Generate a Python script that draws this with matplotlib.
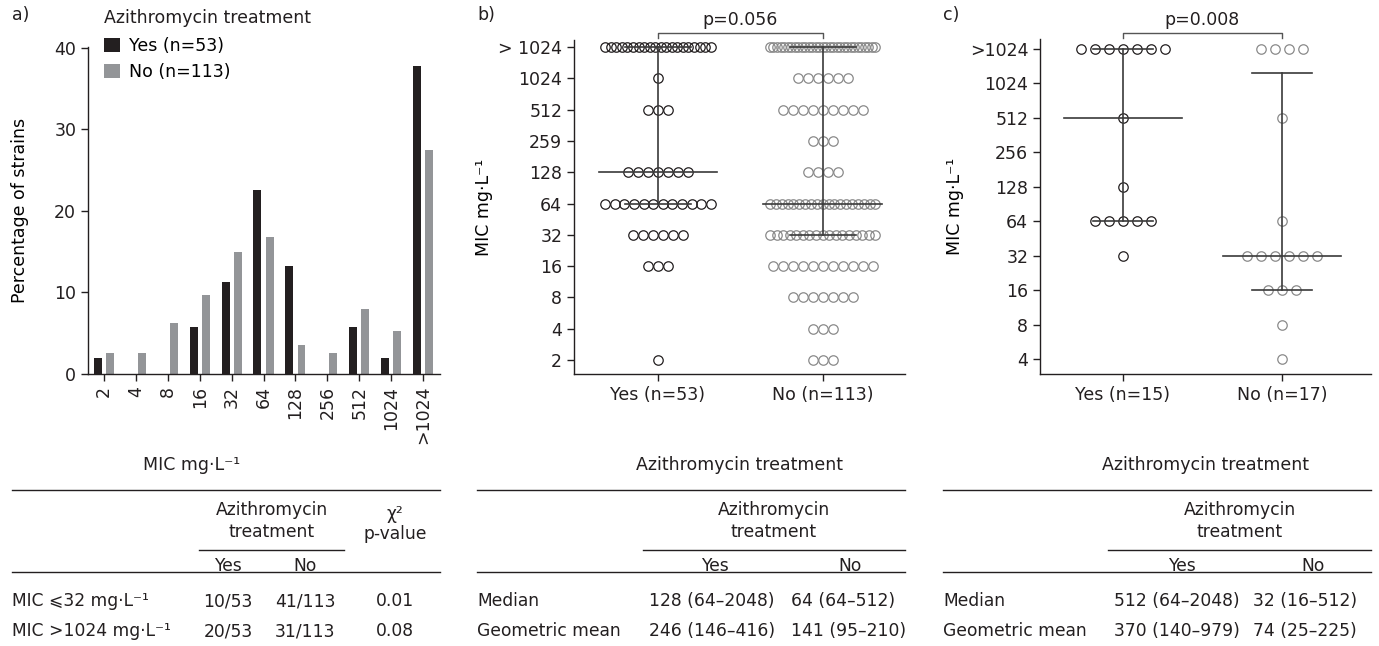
import numpy as np
import matplotlib
matplotlib.use("Agg")
import matplotlib.pyplot as plt
from matplotlib.lines import Line2D

plt.rcParams['font.family'] = ['DejaVu Sans']
plt.rcParams['font.size'] = 12.5

INK = '#231f20'
GREY = '#939598'
DOT_GREY = '#8a8a8a'

# ---- panel a: distribution of MIC (percentage of strains)
mic_labels = ['2', '4', '8', '16', '32', '64', '128', '256', '512', '1024', '>1024']
yes_pct = [1.9, 0, 0, 5.7, 11.3, 22.6, 13.2, 0, 5.7, 1.9, 37.7]
no_pct = [2.6, 2.6, 6.2, 9.7, 15.0, 16.8, 3.5, 2.6, 8.0, 5.3, 27.4]

# ---- panel b: all strains, number of strains at each MIC (log2 level 1..11, 11 = >1024)
b_levels = [1, 2, 3, 4, 5, 6, 7, 8, 9, 10, 11]
b_ticklabels = ['2', '4', '8', '16', '32', '64', '128', '259', '512', '1024', '> 1024']
b_yes_counts = [1, 0, 0, 3, 6, 12, 7, 0, 3, 1, 20]
b_no_counts = [3, 3, 7, 11, 17, 19, 4, 3, 9, 6, 31]
b_yes_stats = (7, 6, 11)    # median, low, high (log2 level)
b_no_stats = (6, 5, 11)

# ---- panel c: paired strains
c_levels = [2, 3, 4, 5, 6, 7, 8, 9, 10, 11]
c_ticklabels = ['4', '8', '16', '32', '64', '128', '256', '512', '1024', '>1024']
c_yes_counts = [0, 0, 0, 1, 5, 1, 0, 1, 0, 7]
c_no_counts = [1, 1, 3, 6, 1, 0, 0, 1, 0, 4]
c_yes_stats = (9, 6, 11)
c_no_stats = (5, 4, 10.3)

W, H = 1379, 646


def fx(x):
    return x / W


def fy(y):
    return 1 - y / H


def row_x(n, step, max_span):
    if n <= 1:
        return np.zeros(n)
    span = min(step * (n - 1), max_span)
    return np.linspace(-span / 2, span / 2, n)


def style_axes(ax):
    for s in ['top', 'right']:
        ax.spines[s].set_visible(False)
    for s in ['left', 'bottom']:
        ax.spines[s].set_color(INK)
        ax.spines[s].set_linewidth(1.0)
    ax.tick_params(colors=INK, width=1.0, length=5, direction='out')


def dot_panel(ax, levels, counts_yes, counts_no, stats_yes, stats_no, step, max_span, medw, capw):
    for xc, counts, col in [(0, counts_yes, INK), (1, counts_no, DOT_GREY)]:
        for lv, n in zip(levels, counts):
            xs = xc + row_x(n, step, max_span)
            ax.plot(xs, [lv] * n, 'o', ms=6.8, mfc='none', mec=col, mew=0.9, zorder=2)
    for xc, (med, lo, hi) in [(0, stats_yes), (1, stats_no)]:
        ax.plot([xc, xc], [lo, hi], color='#3a3a3a', lw=1.2, zorder=3)
        ax.plot([xc - medw, xc + medw], [med, med], color='#3a3a3a', lw=1.2, zorder=3)
        for v in (lo, hi):
            ax.plot([xc - capw, xc + capw], [v, v], color='#3a3a3a', lw=1.2, zorder=3)


fig = plt.figure(figsize=(W / 100, H / 100), dpi=100)

# ---------------- panel a
axa = fig.add_axes([fx(88), fy(374), fx(440) - fx(88), fy(46.7) - fy(374)])
x = np.arange(len(mic_labels))
axa.bar(x - 0.19, yes_pct, 0.25, color=INK, label='Yes (n=53)')
axa.bar(x + 0.19, no_pct, 0.25, color=GREY, label='No (n=113)')
axa.set_xlim(-0.5, 10.53)
axa.set_ylim(0, 40.1)
axa.set_yticks([0, 10, 20, 30, 40])
axa.set_xticks(x)
axa.set_xticklabels(mic_labels, rotation=90)
style_axes(axa)
axa.set_ylabel('Percentage of strains', labelpad=18)
axa.legend(loc='upper left', bbox_to_anchor=(fx(104), fy(37)), bbox_transform=fig.transFigure,
           frameon=False, handlelength=0.9, handleheight=0.9, handletextpad=0.55,
           labelspacing=0.47, borderaxespad=0, borderpad=0, fontsize=12.5)
fig.text(fx(104), fy(18), 'Azithromycin treatment', ha='left', va='center', color=INK)
fig.text(fx(192), fy(465), 'MIC mg·L⁻¹', ha='center', va='center', color=INK)

# ---------------- panel b
axb = fig.add_axes([fx(574), fy(374), fx(905) - fx(574), fy(40) - fy(374)])
dot_panel(axb, b_levels, b_yes_counts, b_no_counts, b_yes_stats, b_no_stats,
          10 / 165, 0.64, 0.36, 0.2)
axb.set_xlim(-0.51, 1.5)
axb.set_ylim(0.55, 11.23)
axb.set_yticks(b_levels)
axb.set_yticklabels(b_ticklabels)
axb.set_xticks([0, 1])
axb.set_xticklabels(['Yes (n=53)', 'No (n=113)'])
style_axes(axb)
axb.set_ylabel('MIC mg·L⁻¹', labelpad=4)
fig.text(fx(740), fy(465), 'Azithromycin treatment', ha='center', va='center', color=INK)
# p-value bracket
axb.plot([0, 0, 1, 1], [11.3, 11.45, 11.45, 11.3], color='#555555', lw=1.0, clip_on=False)
axb.text(0.5, 11.87, 'p=0.056', ha='center', va='center', color=INK)

# ---------------- panel c
axc = fig.add_axes([fx(1040), fy(374), fx(1371) - fx(1040), fy(39.3) - fy(374)])
dot_panel(axc, c_levels, c_yes_counts, c_no_counts, c_yes_stats, c_no_stats,
          14 / 159, 0.64, 0.37, 0.19)
axc.set_xlim(-0.52, 1.56)
axc.set_ylim(1.565, 11.28)
axc.set_yticks(c_levels)
axc.set_yticklabels(c_ticklabels)
axc.set_xticks([0, 1])
axc.set_xticklabels(['Yes (n=15)', 'No (n=17)'])
style_axes(axc)
axc.set_ylabel('MIC mg·L⁻¹', labelpad=4)
fig.text(fx(1205), fy(465), 'Azithromycin treatment', ha='center', va='center', color=INK)
axc.plot([0, 0, 1, 1], [11.33, 11.46, 11.46, 11.33], color='#555555', lw=1.0, clip_on=False)
axc.text(0.5, 11.84, 'p=0.008', ha='center', va='center', color=INK)

# panel letters
for px, lab in [(12, 'a)'), (477, 'b)'), (943, 'c)')]:
    fig.text(fx(px), fy(15), lab, ha='left', va='center', color=INK)


# ---------------- tables
def hline(x0, x1, y, lw=1.0):
    fig.add_artist(Line2D([fx(x0), fx(x1)], [fy(y), fy(y)], color=INK, lw=lw))


def t(xp, yp, s, ha='left'):
    fig.text(fx(xp), fy(yp), s, ha=ha, va='center', color=INK, fontsize=12.3)


# table a
hline(12, 440, 490)
t(272, 510, 'Azithromycin', 'center')
t(272, 532, 'treatment', 'center')
hline(199, 344, 550)
t(395, 514, 'χ²', 'center')
t(395, 534, 'p-value', 'center')
t(228, 566, 'Yes', 'center')
t(305, 566, 'No', 'center')
hline(12, 440, 572)
t(12, 601, 'MIC ⩽32 mg·L⁻¹')
t(12, 631, 'MIC >1024 mg·L⁻¹')
t(228, 601, '10/53', 'center')
t(305, 601, '41/113', 'center')
t(395, 601, '0.01', 'center')
t(228, 631, '20/53', 'center')
t(305, 631, '31/113', 'center')
t(395, 631, '0.08', 'center')

# tables b and c
for x0, x1, ux0, yes_x, no_x, c1x, c2x, med, gm in [
        (477, 905, 643, 715, 850, 649, 791,
         ('128 (64–2048)', '64 (64–512)'), ('246 (146–416)', '141 (95–210)')),
        (943, 1371, 1108, 1182, 1313, 1114, 1253,
         ('512 (64–2048)', '32 (16–512)'), ('370 (140–979)', '74 (25–225)'))]:
    hline(x0, x1, 490)
    t((ux0 + x1) / 2, 510, 'Azithromycin', 'center')
    t((ux0 + x1) / 2, 532, 'treatment', 'center')
    hline(ux0, x1, 550)
    t(yes_x, 566, 'Yes', 'center')
    t(no_x, 566, 'No', 'center')
    hline(x0, x1, 572)
    t(x0, 601, 'Median')
    t(x0, 631, 'Geometric mean')
    t(c1x, 601, med[0])
    t(c2x, 601, med[1])
    t(c1x, 631, gm[0])
    t(c2x, 631, gm[1])

fig.savefig('out.png', dpi=100)
